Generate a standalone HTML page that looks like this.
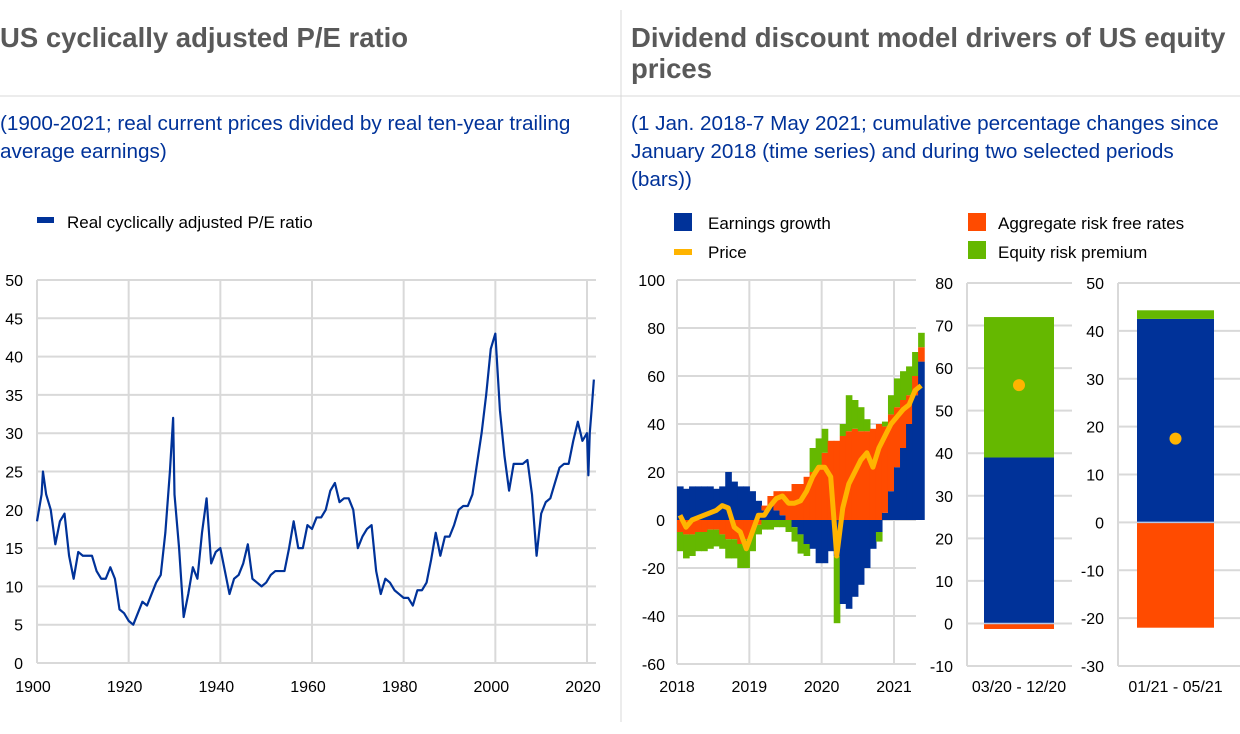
<!DOCTYPE html>
<html><head><meta charset="utf-8"><style>
body{margin:0;background:#fff;width:1240px;height:729px;overflow:hidden;font-family:"Liberation Sans",Arial,sans-serif}
svg text{font-family:"Liberation Sans",Arial,sans-serif}
</style></head><body>
<svg id="s" width="1240" height="729" viewBox="0 0 1240 729">
<line x1="621" y1="10" x2="621" y2="722" stroke="#d9d9d9" stroke-width="1"/>
<line x1="0" y1="96" x2="1240" y2="96" stroke="#d9d9d9" stroke-width="1"/>
<text x="0" y="47" font-size="27.5" font-weight="bold" fill="#595959">US cyclically adjusted P/E ratio</text>
<text x="631" y="47" font-size="27.5" font-weight="bold" fill="#595959">Dividend discount model drivers of US equity</text>
<text x="631" y="78" font-size="27.5" font-weight="bold" fill="#595959">prices</text>
<text x="0" y="130" font-size="20.7" fill="#003299">(1900-2021; real current prices divided by real ten-year trailing</text>
<text x="0" y="158" font-size="20.7" fill="#003299">average earnings)</text>
<text x="631" y="130" font-size="20.7" fill="#003299">(1 Jan. 2018-7 May 2021; cumulative percentage changes since</text>
<text x="631" y="158" font-size="20.7" fill="#003299">January 2018 (time series) and during two selected periods</text>
<text x="631" y="186" font-size="20.7" fill="#003299">(bars))</text>
<g>
<rect x="37" y="217" width="17" height="6" fill="#003299"/>
<text x="67" y="228" font-size="17" fill="#000">Real cyclically adjusted P/E ratio</text>
</g>
<g>
<rect x="674" y="213" width="18" height="18" fill="#003299"/>
<text x="708" y="229" font-size="17">Earnings growth</text>
<rect x="674" y="249" width="18" height="6" fill="#ffb400"/>
<text x="708" y="258" font-size="17">Price</text>
<rect x="968" y="213" width="18" height="18" fill="#ff4b00"/>
<text x="998" y="229" font-size="17">Aggregate  risk free rates</text>
<rect x="968" y="241" width="18" height="18" fill="#65b800"/>
<text x="998" y="258" font-size="17">Equity risk premium</text>
</g>
</svg>
<script>
const peYears=[1900,1901,1901.3,1902,1903,1904,1905,1906,1907,1908,1909,1910,1911,1912,1913,1914,1915,1916,1917,1918,1919,1920,1921,1922,1923,1924,1925,1926,1927,1928,1929,1929.7,1930,1931,1932,1933,1934,1935,1936,1937,1938,1939,1940,1941,1942,1943,1944,1945,1946,1947,1948,1949,1950,1951,1952,1953,1954,1955,1956,1957,1958,1959,1960,1961,1962,1963,1964,1965,1966,1967,1968,1969,1970,1971,1972,1973,1974,1975,1976,1977,1978,1979,1980,1981,1982,1983,1984,1985,1986,1987,1988,1989,1990,1991,1992,1993,1994,1995,1996,1997,1998,1999,2000,2001,2002,2003,2004,2005,2006,2007,2008,2009,2010,2011,2012,2013,2014,2015,2016,2017,2018,2019,2020,2020.3,2020.6,2021,2021.5];
const peValues=[18.5,22,25,22,20,15.5,18.5,19.5,14,11,14.5,14,14,14,12,11,11,12.5,11,7,6.5,5.5,5,6.5,8,7.5,9,10.5,11.5,17,25,32,22,15,6,9,12.5,11,17,21.5,13,14.5,15,12,9,11,11.5,13,15.5,11,10.5,10,10.5,11.5,12,12,12,15,18.5,15,15,18,17.5,19,19,20,22.5,23.5,21,21.5,21.5,20,15,16.5,17.5,18,12,9,11,10.5,9.5,9,8.5,8.5,7.5,9.5,9.5,10.5,13.5,17,14,16.5,16.5,18,20,20.5,20.5,22,26,30,35,41,43,33,27,22.5,26,26,26,26.5,22,14,19.5,21,21.5,23.5,25.5,26,26,29,31.5,29,30,24.5,30,33,37];
const yTicksL=[0,5,10,15,20,25,30,35,40,45,50];
const xTicksL=[1900,1920,1940,1960,1980,2000,2020];

const ddmMonths=Array.from({length:41},(_,i)=>2018+i/12);
const earnings=[14,13,14,14,14,14,13,14,20,16,14,14, 12,8,4,6,4,2,0,-3,-6,-10,-12,-18, -18,-13,-15,-35,-37,-32,-27,-20,-12,-5,3,12, 22,30,40,52,66];
const rates=[-5,-6,-6,-5,-5,-4,-4,-6,-8,-8,-10,-8, -5,-2,2,4,8,10,12,15,15,18,20,22, 28,33,33,35,37,38,37,37,38,40,36,32, 25,20,12,8,6];
const erp=[-8,-10,-9,-8,-8,-8,-7,-6,-8,-8,-10,-12, -8,-4,-4,-4,-3,-3,-5,-6,-8,-5,10,12, 10,0,-28,5,15,12,10,5,0,-4,2,8, 12,12,12,10,6];
const price=[2,-3,0,1,2,3,4,6,5,-3,-5,-12, -5,2,2,6,9,10,7,7,8,12,18,22, 22,18,-15,5,15,20,25,28,22,30,35,40, 43,46,48,54,56];
const yTicksM=[-60,-40,-20,0,20,40,60,80,100];
const xTicksM=[2018,2019,2020,2021];

const barCats=["03/20 - 12/20","01/21 - 05/21"];
const barEarnings=[39,42.5];
const barRates=[-1.3,-22];
const barErp=[33,1.8];
const barPrice=[56,17.5];
const barTicks1=[-10,0,10,20,30,40,50,60,70,80];
const barTicks2=[-30,-20,-10,0,10,20,30,40,50];

const svg=document.getElementById('s');
const NS='http://www.w3.org/2000/svg';
function mk(tag,attrs,parent){const e=document.createElementNS(NS,tag);for(const k in attrs)e.setAttribute(k,attrs[k]);(parent||svg).appendChild(e);return e;}
const COL={blue:'#003299',red:'#ff4b00',green:'#65b800',gold:'#ffb400',grid:'#d9d9d9'};
const FS=16;

// LEFT CHART
const xL=v=>37+(v-1900)*(587-37)/120, yL=v=>663-v*(663-280)/50;
const gL=mk('g',{});


yTicksL.forEach(t=>{
 const l=mk('line',{x1:37,x2:596,y1:yL(t),y2:yL(t),stroke:COL.grid,'stroke-width':2},gL);
 
 
 const tx=mk('text',{x:23,y:yL(t)+6,'font-size':FS,'text-anchor':'end'},gL);tx.textContent=t;
 
 
});
xTicksL.forEach(t=>{
 const l=mk('line',{x1:xL(t),x2:xL(t),y1:280,y2:663,stroke:COL.grid,'stroke-width':2},gL);
 
 
 const tx=mk('text',{x:xL(t)-4,y:692,'font-size':FS,'text-anchor':'middle'},gL);tx.textContent=t;
 
 
});
const peLine=mk('polyline',{points:peYears.map((y,i)=>xL(y)+','+yL(peValues[i])).join(' '),fill:'none',stroke:COL.blue,'stroke-width':2.2,'stroke-linejoin':'round'},gL);



// MIDDLE CHART
const xM=v=>677+(v-2018)*(894-677)/3, yM=v=>664-(v+60)*(664-280)/160;
const gM=mk('g',{});


yTicksM.forEach(t=>{
 const l=mk('line',{x1:677,x2:916,y1:yM(t),y2:yM(t),stroke:COL.grid,'stroke-width':2},gM);
 
 
 const tx=mk('text',{x:665,y:yM(t)+6,'font-size':FS,'text-anchor':'end'},gM);tx.textContent=t;
 
 
});
xTicksM.forEach(t=>{
 const l=mk('line',{x1:xM(t),x2:xM(t),y1:280,y2:664,stroke:COL.grid,'stroke-width':2},gM);
 
 
 const tx=mk('text',{x:xM(t),y:692,'font-size':FS,'text-anchor':'middle'},gM);tx.textContent=t;
 
 
});
const stepW=(xM(2019)-xM(2018))/12;
ddmMonths.forEach((m,i)=>{
 let pos=0,neg=0;
 [[earnings[i],COL.blue,'earnings'],[rates[i],COL.red,'rates'],[erp[i],COL.green,'erp']].forEach(([v,c,n])=>{
  let y0,y1;
  if(v>=0){y0=pos;y1=pos+v;pos=y1;}else{y0=neg;y1=neg+v;neg=y1;}
  const r=mk('rect',{x:xM(m),width:stepW+0.6,y:Math.min(yM(y0),yM(y1)),height:Math.abs(yM(y0)-yM(y1)),fill:c},gM);
  
  
 });
});
const pl=mk('polyline',{points:ddmMonths.map((m,i)=>(xM(m)+stepW/2)+','+yM(price[i])).join(' '),fill:'none',stroke:COL.gold,'stroke-width':5,'stroke-linejoin':'round'},gM);



// BAR CHARTS
function barChart(idx,x0,x1,bx0,bx1,mn,mx,ticks){
 const y=v=>666-(v-mn)*(666-283)/(mx-mn);
 const g=mk('g',{});
 
 
 ticks.forEach(t=>{
  const l=mk('line',{x1:x0,x2:x1,y1:y(t),y2:y(t),stroke:COL.grid,'stroke-width':2},g);
  
  
  const tx=mk('text',{x:x0-14,y:y(t)+6,'font-size':FS,'text-anchor':'end'},g);tx.textContent=t;
  
  
 });
 const ax=mk('line',{x1:x0,x2:x0,y1:283,y2:666,stroke:COL.grid,'stroke-width':2},g);
 
 
 let pos=0,neg=0;
 [[barEarnings[idx],COL.blue,'earnings'],[barRates[idx],COL.red,'rates'],[barErp[idx],COL.green,'erp']].forEach(([v,c,n])=>{
  let a,b; if(v>=0){a=pos;b=pos+v;pos=b;}else{a=neg;b=neg+v;neg=b;}
  const r=mk('rect',{x:bx0,width:bx1-bx0,y:Math.min(y(a),y(b)),height:Math.abs(y(a)-y(b)),fill:c},g);
  
  
 });
 const zl=mk('line',{x1:bx0,x2:bx1,y1:y(0),y2:y(0),stroke:'#b4c8e8','stroke-width':1.5},g);
 
 
 const d=mk('circle',{cx:(bx0+bx1)/2,cy:y(barPrice[idx]),r:6,fill:COL.gold},g);
 
 
 const c=mk('text',{x:(bx0+bx1)/2,y:692,'font-size':FS,'text-anchor':'middle'},g);c.textContent=barCats[idx];
 
 
}
barChart(0,967,1072,984,1054,-10,80,barTicks1);
barChart(1,1118,1240,1137,1214,-30,50,barTicks2);
</script>
</body></html>
